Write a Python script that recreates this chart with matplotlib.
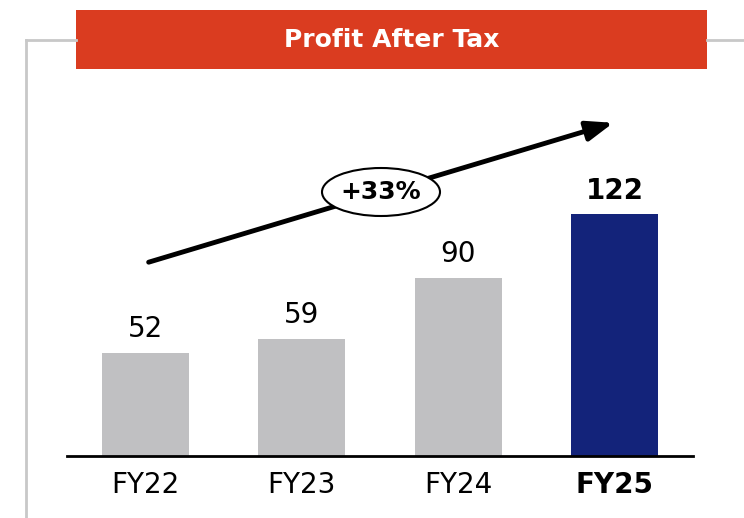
import matplotlib
matplotlib.use("Agg")
import matplotlib.pyplot as plt
from matplotlib.patches import Rectangle, Ellipse, FancyArrowPatch
from matplotlib.lines import Line2D

categories = ["FY22", "FY23", "FY24", "FY25"]
values = [52, 59, 90, 122]
bar_colors = ["#C0C0C2", "#C0C0C2", "#C0C0C2", "#13237A"]
title = "Profit After Tax"
growth_label = "+33%"

W, H = 744, 518
fig = plt.figure(figsize=(W / 100, H / 100), dpi=100)
plt.rcParams['font.family'] = ['DejaVu Sans']

def fx(px):
    return px / W

def fy(py):
    return 1 - py / H

# Frame lines (gray)
fig.add_artist(Line2D([fx(26), fx(26)], [fy(40), fy(518)], color="#C8C8C8", lw=2.0))
fig.add_artist(Line2D([fx(26), fx(76)], [fy(40), fy(40)], color="#C8C8C8", lw=2.0))
fig.add_artist(Line2D([fx(707), fx(744)], [fy(40), fy(40)], color="#C8C8C8", lw=2.0))

# Title box
fig.add_artist(Rectangle((fx(76), fy(69)), fx(707) - fx(76), fy(10) - fy(69),
                         facecolor="#DA3C20", edgecolor="none"))
fig.text(fx(391.5), fy(40), title, color="white", fontsize=18, fontweight="bold",
         ha="center", va="center")

# Main axes
ax_left, ax_right = 67, 693
ax_bottom, ax_top = 456, 156
ax = fig.add_axes([fx(ax_left), fy(ax_bottom), fx(ax_right) - fx(ax_left), fy(ax_top) - fy(ax_bottom)])
scale = 1.98
ax.set_xlim(-0.5, 3.5)
ax.set_ylim(0, (ax_bottom - ax_top) / scale)
x = list(range(len(categories)))
ax.bar(x, values, width=0.555, color=bar_colors)
for i, v in enumerate(values):
    bold = i == len(values) - 1
    ax.text(i, v + 5, str(v), ha="center", va="bottom", fontsize=20,
            fontweight="bold" if bold else "normal", color="black")
ax.set_xticks(x)
ax.set_xticklabels(categories, fontsize=20)
ax.get_xticklabels()[-1].set_fontweight("bold")
ax.tick_params(axis="x", length=0, pad=11)
ax.set_yticks([])
for s in ["top", "left", "right"]:
    ax.spines[s].set_visible(False)
ax.spines["bottom"].set_linewidth(2)
ax.patch.set_visible(False)

# Growth arrow
arrow = FancyArrowPatch((fx(146), fy(263)), (fx(616), fy(122)), transform=fig.transFigure,
                        arrowstyle="-|>,head_length=16,head_width=6", color="black",
                        lw=3.5, mutation_scale=1)
fig.add_artist(arrow)
fig.add_artist(Ellipse((fx(381), fy(192)), fx(118), 48 / H, transform=fig.transFigure,
                       facecolor="white", edgecolor="black", lw=1.5))
fig.text(fx(381), fy(192), growth_label, fontsize=18, fontweight="bold",
         ha="center", va="center")

fig.savefig("out.png", dpi=100)
